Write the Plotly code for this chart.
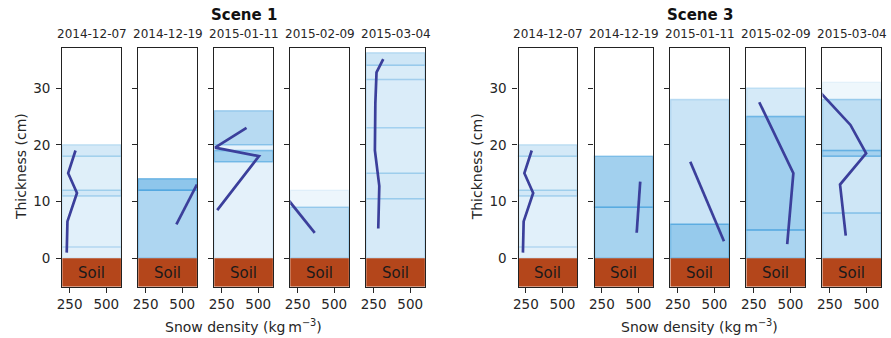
import plotly.graph_objects as go

# Sampling dates (one panel per date)
dates = ["2014-12-07", "2014-12-19", "2015-01-11", "2015-02-09", "2015-03-04"]
scenes = ["Scene 1", "Scene 3"]

# Layer tops (cm above soil) for each date, bottom layer starts at 0
scene1_tops = [[2, 11, 12, 18, 20], [12, 14], [17, 19, 20, 26], [9, 12],
               [10.5, 15, 23, 31.5, 34, 36.2]]
scene3_tops = [[2, 11, 12, 18, 20], [9, 18], [6, 28], [5, 25, 30],
               [8, 18, 19, 28, 31]]

# Layer densities (kg m-3), one per layer
scene1_density = [[230, 235, 300, 240, 290], [460, 600], [220, 505, 205, 420],
                  [367, 180], [282, 289, 259, 262, 270, 316]]
scene3_density = [[230, 235, 300, 240, 290], [488, 512], [565, 335],
                  [478, 520, 287], [359, 320, 498, 391, 175]]

density_ticks = [250, 500]
thickness_ticks = [0, 10, 20, 30]
soil_depth = 5

W, H = 891, 338
FONT = "DejaVu Sans"
TXT = "#262626"
PANEL_W = 59.0
STEP = 76.5
SCENE_LEFT = [56.7, 516.0]
Y_TOP, Y_BOT = 48.3, 286.7
SOIL = "#b4461b"
PROFILE = "#3b3f9b"

def layer_rgba(d):
    a = min(max((d - 100) / 900.0, 0.08), 0.6)
    return f"rgba(52,152,219,{a:.3f})"

fig = go.Figure()
layout = {}
shapes = []
annotations = []

all_tops = [scene1_tops, scene3_tops]
all_dens = [scene1_density, scene3_density]

k = 0
for s, scene in enumerate(scenes):
    for p, date in enumerate(dates):
        k += 1
        xa = "x" if k == 1 else f"x{k}"
        ya = "y" if k == 1 else f"y{k}"
        left = SCENE_LEFT[s] + p * STEP
        right = left + PANEL_W
        layout["xaxis" if k == 1 else f"xaxis{k}"] = dict(
            domain=[left / W, right / W], anchor=ya, range=[200, 600],
            tickvals=density_ticks, ticks="outside", ticklen=5, tickwidth=1,
            tickcolor=TXT, showgrid=False, zeroline=False, ticklabelstandoff=0,
            showline=True, mirror=True, linecolor="#222222", linewidth=1.3,
            tickfont=dict(family=FONT, size=13.5, color=TXT))
        layout["yaxis" if k == 1 else f"yaxis{k}"] = dict(
            domain=[1 - Y_BOT / H, 1 - Y_TOP / H], anchor=xa, range=[-5, 37],
            tickvals=thickness_ticks, ticks="outside", ticklen=5, tickwidth=1,
            tickcolor=TXT, showgrid=False, zeroline=False, ticklabelstandoff=3,
            showticklabels=(p == 0),
            showline=True, mirror=True, linecolor="#222222", linewidth=1.3,
            tickfont=dict(family=FONT, size=13.5, color=TXT))

        tops = all_tops[s][p]
        dens = all_dens[s][p]
        bottoms = [0] + tops[:-1]
        mids = []
        for b, t, d in zip(bottoms, tops, dens):
            c = layer_rgba(d)
            shapes.append(dict(type="rect", xref=f"{xa} domain", yref=ya,
                               x0=0, x1=1, y0=b, y1=t, fillcolor=c,
                               line=dict(color=c, width=1.5), layer="below"))
            mids.append((b + t) / 2)
        shapes.append(dict(type="rect", xref=f"{xa} domain", yref=ya,
                           x0=0, x1=1, y0=-soil_depth, y1=0, fillcolor=SOIL,
                           line=dict(width=0), layer="below"))
        annotations.append(dict(text="Soil", xref=f"{xa} domain", yref=ya,
                                x=0.5, y=-soil_depth / 2, showarrow=False,
                                font=dict(family=FONT, size=15, color="#1a1a1a")))
        fig.add_trace(go.Scatter(x=dens, y=mids, mode="lines", xaxis=xa, yaxis=ya,
                                 line=dict(color=PROFILE, width=2.7),
                                 showlegend=False, hoverinfo="skip"))
        annotations.append(dict(text=date, xref="paper", yref="paper",
                                x=(left + right) / 2 / W, y=1 - 34 / H,
                                xanchor="center", yanchor="middle", showarrow=False,
                                font=dict(family=FONT, size=12, color=TXT)))

    cx = (SCENE_LEFT[s] + SCENE_LEFT[s] + 4 * STEP + PANEL_W) / 2 / W
    annotations.append(dict(text=f"<b>{scene}</b>", xref="paper", yref="paper",
                            x=cx, y=1 - 15 / H, xanchor="center", yanchor="middle",
                            showarrow=False, font=dict(family=FONT, size=15, color="#111")))
    annotations.append(dict(text="Snow density (kg\u2009m<sup>\u22123</sup>)",
                            xref="paper", yref="paper", x=cx, y=1 - 326 / H,
                            xanchor="center", yanchor="middle", showarrow=False,
                            font=dict(family=FONT, size=14, color=TXT)))
    annotations.append(dict(text="Thickness (cm)", xref="paper", yref="paper",
                            x=(SCENE_LEFT[s] - 41.5) / W, y=1 - 167 / H,
                            xanchor="center", yanchor="middle", textangle=-90,
                            showarrow=False, font=dict(family=FONT, size=14, color=TXT)))

fig.update_layout(width=W, height=H, margin=dict(l=0, r=0, t=0, b=0),
                  paper_bgcolor="white", plot_bgcolor="white",
                  shapes=shapes, annotations=annotations, **layout)
fig.write_html("out.html")
